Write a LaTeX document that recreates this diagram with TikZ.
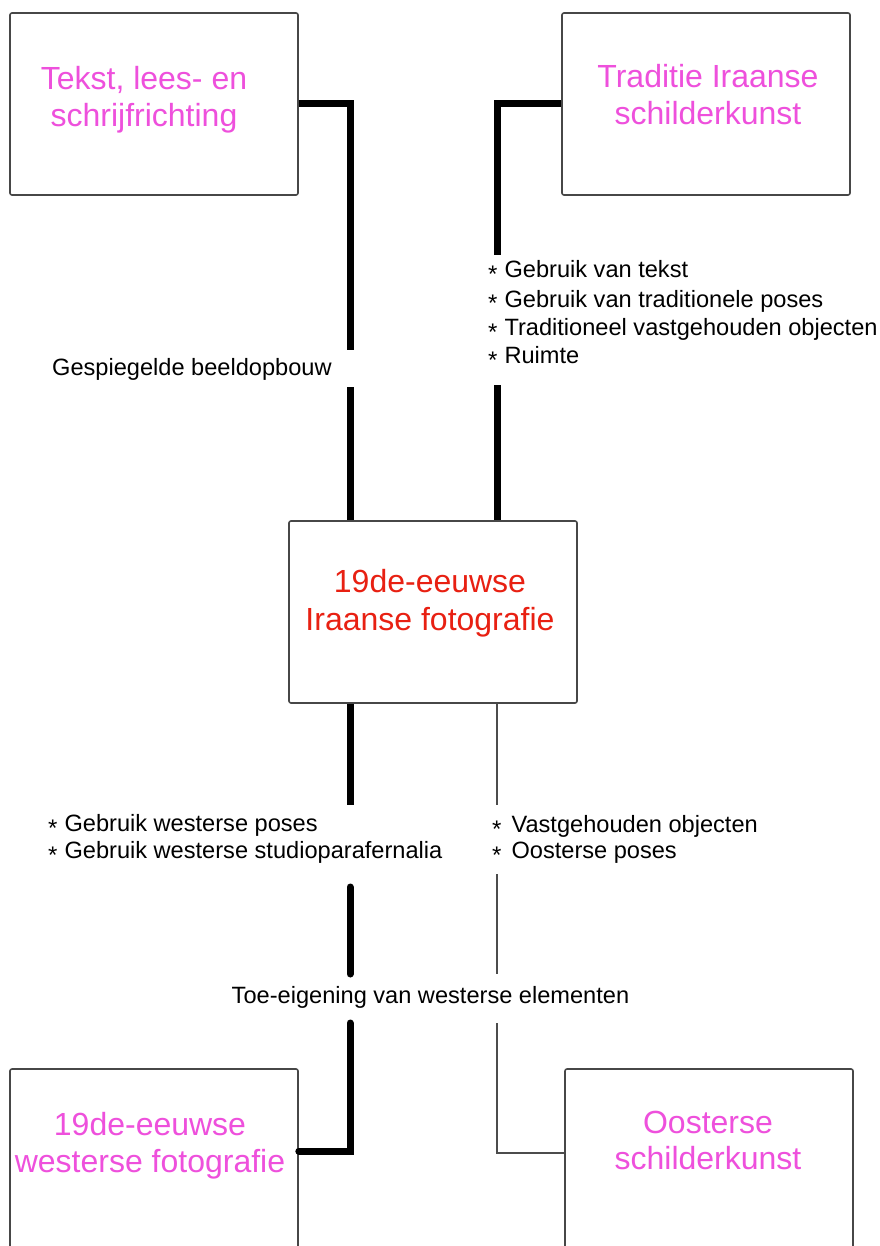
\documentclass[tikz,border=0pt]{standalone}
\usepackage{fontspec}
\setmainfont{Liberation Sans}
\definecolor{roze}{RGB}{238,80,220}
\definecolor{rood}{RGB}{232,32,18}
\newcommand{\ster}[1]{\raisebox{-5pt}{\fontsize{24}{24}\selectfont *}\hspace{#1}}
\begin{document}
\begin{tikzpicture}[x=1pt, y=-1pt,
    vak/.style={draw=black!72, line width=1.6pt, rounded corners=2pt,
        minimum width=288pt, minimum height=182pt, inner sep=0pt},
    kop/.style={font=\fontsize{32}{37}\selectfont, anchor=base, inner sep=0pt},
    tekst/.style={font=\fontsize{23.6}{28}\selectfont, anchor=base west, inner sep=0pt},
    dik/.style={line width=7pt},
    dun/.style={line width=1.3pt, black!70}]
    \path[use as bounding box, fill=white] (0,0) rectangle (879,1246);

    % boxes
    \node[vak] (lees) at (154,104) {};
    \node[vak] (trad) at (706,104) {};
    \node[vak] (foto) at (433,612) {};
    \node[vak] (west) at (154,1160) {};
    \node[vak] (oost) at (709,1160) {};

    \foreach \x/\y/\regel [count=\i] in {144/90/{Tekst, lees- en}, 144/127/schrijfrichting,
        708/88/Traditie Iraanse, 708/125/schilderkunst,
        150/1135/19de-eeuwse, 150/1172/westerse fotografie,
        708/1133/Oosterse, 708/1169/schilderkunst}
    {
        \node[kop, text=roze] (kop\i) at (\x,\y) {\regel};
    }
    \foreach \y/\regel [count=\i] in {592/19de-eeuwse, 630/Iraanse fotografie}
    {
        \node[kop, text=rood] (mid\i) at (430,\y) {\regel};
    }

    % labels
    \node[tekst] (spiegel) at (52,375) {Gespiegelde beeldopbouw};
    \node[tekst, anchor=base] (toe) at (430.5,1003) {Toe-eigening van westerse elementen};
    \foreach \y/\regel [count=\i] in {278/Gebruik van tekst, 307/Gebruik van traditionele poses,
        335/Traditioneel vastgehouden objecten, 363/Ruimte}
    {
        \node[tekst] (trad\i) at (488,\y) {\ster{7pt}\regel};
    }
    \foreach \y/\regel [count=\i] in {831/Gebruik westerse poses, 858/Gebruik westerse studioparafernalia}
    {
        \node[tekst] (wl\i) at (48,\y) {\ster{7pt}\regel};
    }
    \foreach \y/\regel [count=\i] in {832/Vastgehouden objecten, 858/Oosterse poses}
    {
        \node[tekst] (ol\i) at (492,\y) {\ster{10pt}\regel};
    }

    % line ends
    \coordinate (l1) at (350,350);
    \coordinate (l2) at (350,387);
    \coordinate (l3) at (350,805);
    \coordinate (l4) at (350,887);
    \coordinate (l5) at (350,974);
    \coordinate (l6) at (350,1023);
    \coordinate (r1) at (497,255);
    \coordinate (r2) at (497,385);
    \coordinate (r3) at (497,805);
    \coordinate (r4) at (497,874);
    \coordinate (r5) at (497,974);
    \coordinate (r6) at (497,1023);

    \draw[dik] (lees.east) -| (l1);
    \draw[dik] (l2) -- (l2 |- foto.north);
    \draw[dik] (l2 |- foto.south) -- (l3);
    \draw[dik, line cap=round] (l4) -- (l5);
    \draw[dik, line cap=round] (l6) |- ([yshift=9pt]west.east);
    \draw[dik] (trad.west) -| (r1);
    \draw[dik] (r2) -- (r2 |- foto.north);
    \draw[dun] (r2 |- foto.south) -- (r3);
    \draw[dun] (r4) -- (r5);
    \draw[dun] (r6) |- ([yshift=7pt]oost.west);
\end{tikzpicture}
\end{document}
